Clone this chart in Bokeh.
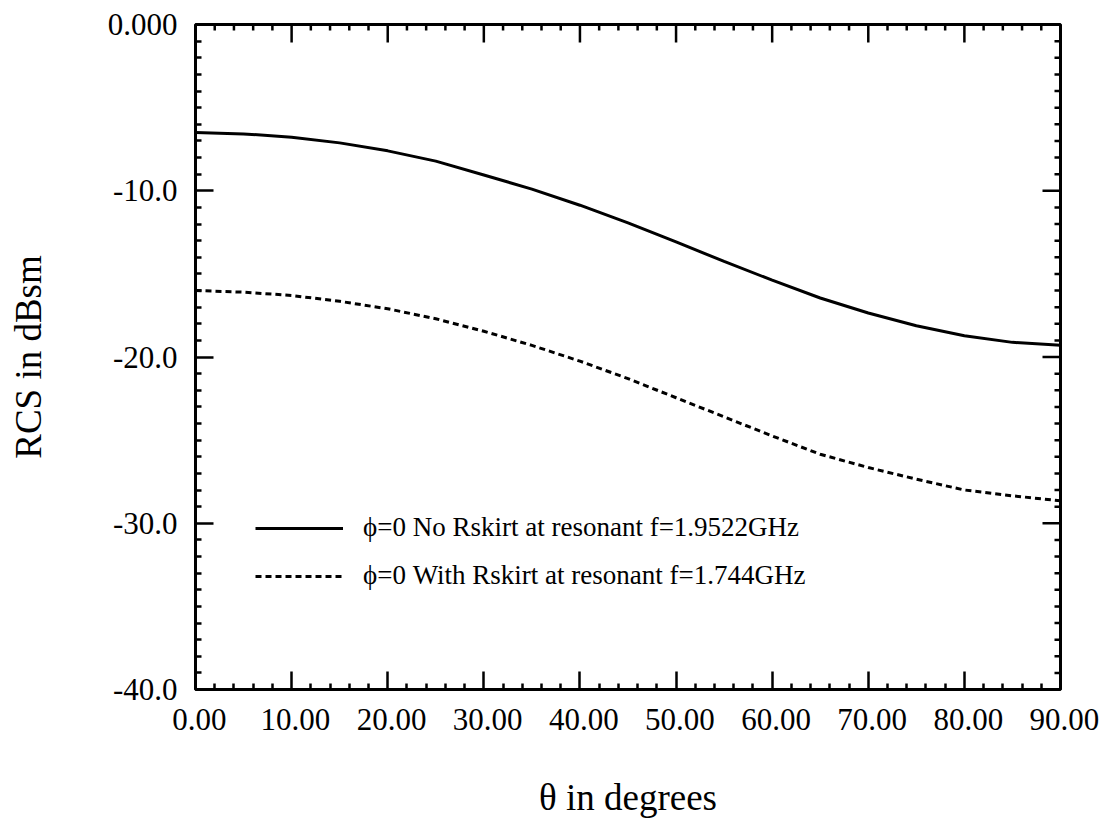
import math
from bokeh.plotting import figure
from bokeh.models import (FixedTicker, LinearAxis, CustomJSTickFormatter, Legend,
                          LegendItem, Range1d)
from bokeh.embed import file_html
from bokeh.resources import INLINE

# ---- data ----
theta = [0, 5, 10, 15, 20, 25, 30, 35, 40, 45, 50, 55, 60, 65, 70, 75, 80, 85, 90]
rcs_no_skirt = [-6.5, -6.58, -6.78, -7.12, -7.6, -8.22, -9.05, -9.9, -10.87, -11.93,
                -13.08, -14.25, -15.38, -16.45, -17.35, -18.12, -18.72, -19.12, -19.3]
rcs_with_skirt = [-16.0, -16.1, -16.3, -16.65, -17.1, -17.7, -18.45, -19.3, -20.25, -21.3,
                  -22.45, -23.6, -24.75, -25.85, -26.65, -27.35, -28.0, -28.35, -28.65]
label_no_skirt = "\u03d5=0 No Rskirt at resonant f=1.9522GHz"
label_with_skirt = "\u03d5=0 With Rskirt at resonant f=1.744GHz"
x_major = [0, 10, 20, 30, 40, 50, 60, 70, 80, 90]
x_minor = [v for v in range(0, 91, 2) if v % 10 != 0]
y_major = [-40, -30, -20, -10, 0]
y_minor = [v for v in range(-40, 1, 1) if v % 10 != 0]

FONT = "Liberation Serif"
X0, X1 = 0, 90
Y0, Y1 = -40, 0

p = figure(width=1107, height=820, x_range=Range1d(X0, X1), y_range=Range1d(Y0, Y1),
           output_backend="svg", toolbar_location=None,
           x_axis_location=None, y_axis_location=None,
           min_border_left=195, min_border_right=47, min_border_top=24,
           min_border_bottom=130)
p.grid.visible = False
p.outline_line_color = "black"
p.outline_line_width = 3
p.background_fill_color = "white"
p.border_fill_color = "white"

xt = FixedTicker(ticks=x_major, minor_ticks=x_minor)
yt = FixedTicker(ticks=y_major, minor_ticks=y_minor)
xfmt = CustomJSTickFormatter(code="return '\\u00a0' + tick.toFixed(2);")
yfmt = CustomJSTickFormatter(code="return tick == 0 ? '0.000' : tick.toFixed(1);")


def style(ax):
    ax.axis_line_color = None
    ax.major_tick_in = 18
    ax.major_tick_out = 0
    ax.minor_tick_in = 6
    ax.minor_tick_out = 0
    ax.major_tick_line_width = 2.5
    ax.minor_tick_line_width = 2.5
    ax.major_tick_line_color = "black"
    ax.minor_tick_line_color = "black"
    ax.major_label_text_font = FONT
    ax.major_label_text_font_size = "31px"
    ax.major_label_text_color = "black"
    ax.axis_label_text_font = FONT
    ax.axis_label_text_font_size = "37px"
    ax.axis_label_text_font_style = "normal"
    ax.axis_label_text_color = "black"


xb = LinearAxis(ticker=xt, formatter=xfmt, axis_label="\u03b8 in degrees")
style(xb)
xb.major_label_standoff = 12
xb.axis_label_standoff = 37
p.add_layout(xb, "below")

yl = LinearAxis(ticker=yt, formatter=yfmt, axis_label="RCS in dBsm")
style(yl)
yl.major_label_standoff = 18
yl.axis_label_standoff = 56
p.add_layout(yl, "left")

# inward ticks on the top and right edges (markers centred on the frame edge, clipped)
p.scatter(x=x_major, y=[Y1] * len(x_major), marker="dash", size=36, angle=math.pi / 2,
          line_color="black", line_width=2.5)
p.scatter(x=x_minor, y=[Y1] * len(x_minor), marker="dash", size=12, angle=math.pi / 2,
          line_color="black", line_width=2.5)
p.scatter(x=[X1] * len(y_major), y=y_major, marker="dash", size=36,
          line_color="black", line_width=2.5)
p.scatter(x=[X1] * len(y_minor), y=y_minor, marker="dash", size=12,
          line_color="black", line_width=2.5)

r1 = p.line(theta, rcs_no_skirt, line_color="black", line_width=3)
r2 = p.line(theta, rcs_with_skirt, line_color="black", line_width=3, line_dash="6 4")

legend = Legend(items=[LegendItem(label=label_no_skirt, renderers=[r1]),
                       LegendItem(label=label_with_skirt, renderers=[r2])],
                location=(60, 98), glyph_width=88, glyph_height=20, label_height=20,
                label_standoff=20, label_text_font=FONT, label_text_font_size="27px",
                label_text_color="black", spacing=17, padding=0, margin=0,
                border_line_color=None, background_fill_alpha=0)
p.add_layout(legend)

open("out.html", "w").write(file_html(p, INLINE))
